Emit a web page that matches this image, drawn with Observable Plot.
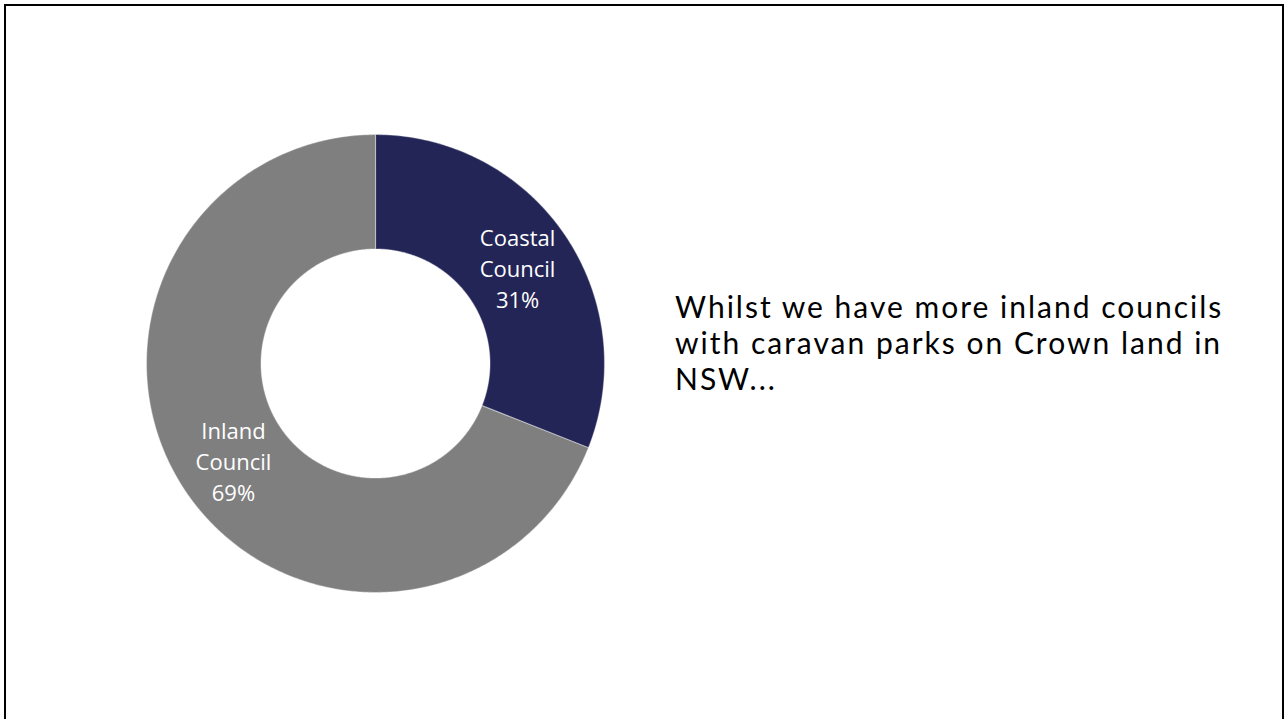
<!DOCTYPE html>
<html>
<head>
<meta charset="utf-8">
<script src="https://cdn.jsdelivr.net/npm/d3@7"></script>
<script src="https://cdn.jsdelivr.net/npm/@observablehq/plot@0.6"></script>
<style>
  html, body { margin: 0; padding: 0; background: #fff; }
  #wrap { position: relative; width: 1284px; height: 719px; overflow: hidden; }
  #frame { position: absolute; left: 4px; top: 4px; width: 1280px; height: 730px; border: 2.5px solid #000; box-sizing: border-box; }
  #note { position: absolute; left: 675px; top: 288px; font-family: Lato, "Open Sans", sans-serif; font-size: 30px; line-height: 36px; letter-spacing: 2px; color: #000; white-space: nowrap; }
  #chart { position: absolute; left: 0; top: 0; }
</style>
</head>
<body>
<div id="wrap">
  <div id="chart"></div>
  <div id="frame"></div>
  <div id="note">Whilst we have more inland councils<br>with caravan parks on Crown land in<br>NSW...</div>
</div>
<script>
const categories = ["Coastal Council", "Inland Council"];
const shares = [31, 69];
const labels = ["Coastal\nCouncil\n31%", "Inland\nCouncil\n69%"];
const colors = ["#232556", "#7f7f7f"];

const innerRatio = 0.5;
const total = d3.sum(shares);

// Build slice polygons (in unit-circle data space) from the shares
const rings = [];
const labelRows = [];
let acc = 0;
categories.forEach((cat, i) => {
  const a0 = acc / total * 2 * Math.PI;
  acc += shares[i];
  const a1 = acc / total * 2 * Math.PI;
  const n = Math.max(2, Math.ceil((a1 - a0) / (Math.PI / 360)));
  for (let k = 0; k <= n; k++) {
    const a = a0 + (a1 - a0) * k / n;
    rings.push({category: cat, x: Math.sin(a), y: Math.cos(a)});
  }
  for (let k = n; k >= 0; k--) {
    const a = a0 + (a1 - a0) * k / n;
    rings.push({category: cat, x: innerRatio * Math.sin(a), y: innerRatio * Math.cos(a)});
  }
  const am = (a0 + a1) / 2;
  const rm = (1 + innerRatio) / 2;
  labelRows.push({category: cat, label: labels[i], x: rm * Math.sin(am), y: rm * Math.cos(am)});
});

const chart = Plot.plot({
  width: 1284,
  height: 719,
  marginLeft: 146,
  marginRight: 680,
  marginTop: 134,
  marginBottom: 127,
  x: {domain: [-1, 1], axis: null},
  y: {domain: [-1, 1], axis: null},
  color: {domain: categories, range: colors},
  style: {background: "transparent", overflow: "visible"},
  marks: [
    Plot.line(rings, {x: "x", y: "y", z: "category", fill: "category", stroke: "#ffffff", strokeOpacity: 0.35, strokeWidth: 1.2, curve: "linear-closed"}),
    Plot.text(labelRows, {x: "x", y: "y", text: "label", fill: "#ffffff", fontSize: 22, lineHeight: 1.42, fontFamily: "'Open Sans', Lato, sans-serif"})
  ]
});
document.getElementById("chart").appendChild(chart);
</script>
</body>
</html>
